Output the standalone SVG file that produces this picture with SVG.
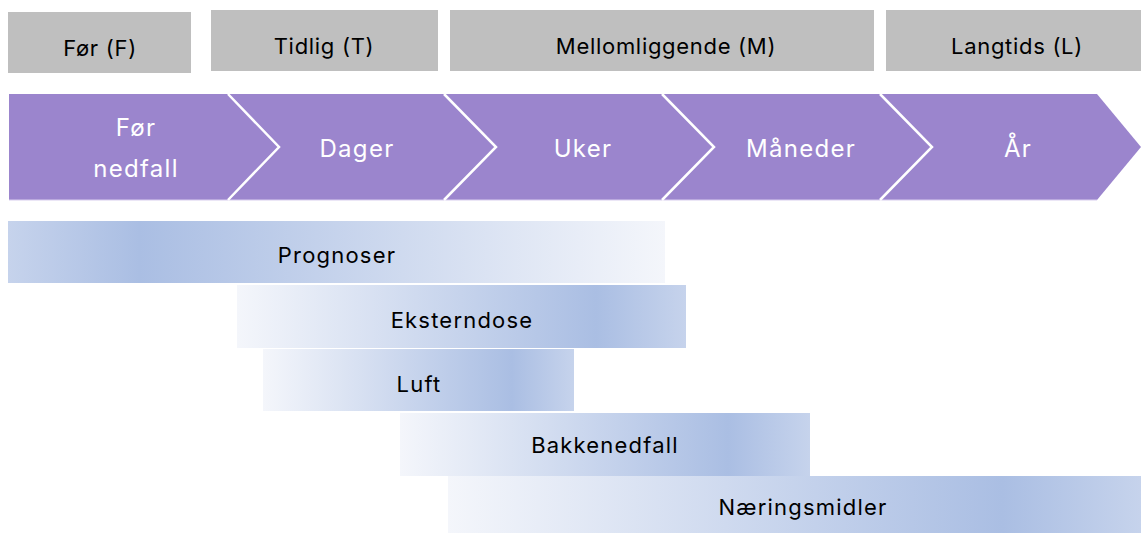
<svg xmlns="http://www.w3.org/2000/svg" width="1141" height="533" viewBox="0 0 1141 533">
<style>
.phase{fill:#bfbfbf}
.pt{font-family:Inter,"Liberation Sans",sans-serif;font-size:22px;letter-spacing:0.7px;fill:#000;text-anchor:middle}
.ct{font-family:Inter,"Liberation Sans",sans-serif;font-size:24px;letter-spacing:1.3px;fill:#fff;text-anchor:middle}
.bt{font-family:Inter,"Liberation Sans",sans-serif;font-size:22px;letter-spacing:1.2px;fill:#000;text-anchor:middle}
.sep{fill:none;stroke:#fff;stroke-width:2.5}
</style>
<defs>
<linearGradient id="gR" x1="0" y1="0" x2="1" y2="0">
<stop offset="0" stop-color="#f4f6fb"/>
<stop offset="0.8" stop-color="#aabee3"/>
<stop offset="1" stop-color="#c6d3ec"/>
</linearGradient>
<linearGradient id="gL" x1="0" y1="0" x2="1" y2="0">
<stop offset="0" stop-color="#c6d3ec"/>
<stop offset="0.2" stop-color="#aabee3"/>
<stop offset="1" stop-color="#f4f6fb"/>
</linearGradient>
</defs>
<rect width="1141" height="533" fill="#fff"/>
<g id="phase-F"><rect class="phase" x="8" y="12" width="183" height="61"/><text class="pt" x="100" y="56">Før (F)</text></g>
<g id="phase-T"><rect class="phase" x="211" y="10" width="227" height="61"/><text class="pt" x="324" y="54">Tidlig (T)</text></g>
<g id="phase-M"><rect class="phase" x="450" y="10" width="424" height="61"/><text class="pt" x="666" y="54">Mellomliggende (M)</text></g>
<g id="phase-L"><rect class="phase" x="886" y="10" width="255" height="61"/><text class="pt" x="1017" y="54">Langtids (L)</text></g>
<g id="timeline">
<polygon points="9,94 1097,94 1141,147 1097,200 9,200" fill="#9b85cd"/>
<line x1="9" y1="200" x2="1097" y2="200" stroke="#d8cdee" stroke-width="1"/>
</g>
<g id="connectors">
<polyline class="sep" points="228,94 279,147 228,200"/>
<polyline class="sep" points="444,94 496,147 444,200"/>
<polyline class="sep" points="662,94 714,147 662,200"/>
<polyline class="sep" points="880,94 932,147 880,200"/>
</g>
<g id="step-1"><text class="ct" x="136" y="136">Før</text><text class="ct" x="136" y="177">nedfall</text></g>
<g id="step-2"><text class="ct" x="357" y="157">Dager</text></g>
<g id="step-3"><text class="ct" x="583" y="157">Uker</text></g>
<g id="step-4"><text class="ct" x="801" y="157">Måneder</text></g>
<g id="step-5"><text class="ct" x="1018" y="157">År</text></g>
<g id="bar-prognoser"><rect x="8" y="221" width="657" height="62" fill="url(#gL)"/><text class="bt" x="337" y="263">Prognoser</text></g>
<g id="bar-eksterndose"><rect x="237" y="285" width="449" height="63" fill="url(#gR)"/><text class="bt" x="462" y="328">Eksterndose</text></g>
<g id="bar-luft"><rect x="263" y="349" width="311" height="62" fill="url(#gR)"/><text class="bt" x="419" y="392">Luft</text></g>
<g id="bar-bakkenedfall"><rect x="400" y="413" width="410" height="63" fill="url(#gR)"/><text class="bt" x="605" y="453">Bakkenedfall</text></g>
<g id="bar-naeringsmidler"><rect x="448" y="476" width="693" height="57" fill="url(#gR)"/><text class="bt" x="803" y="515">Næringsmidler</text></g>
</svg>
